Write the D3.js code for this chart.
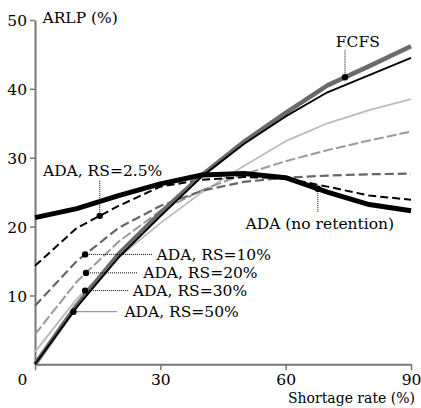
<!DOCTYPE html>
<html>
<head>
<meta charset="utf-8">
<script src="https://cdn.jsdelivr.net/npm/d3@7"></script>
<style>
  body { margin: 0; background: #fff; }
</style>
</head>
<body>
<svg id="chart" width="421" height="408"></svg>
<script>
// Data (shortage rate % -> ARLP %)
const shortage = [0, 10, 20, 30, 40, 50, 60, 70, 80, 90];
const fcfs   = [0, 8.6, 16.0, 22.0, 27.5, 32.3, 36.5, 40.5, 43.3, 46.2];
const rs50   = [0, 8.3, 15.5, 21.5, 27.3, 32.0, 36.0, 39.5, 42.0, 44.5];
const rs30   = [1.8, 9.5, 15.5, 20.5, 25.0, 28.8, 32.4, 35.0, 36.9, 38.5];
const rs20   = [4.35, 12.0, 17.8, 22.3, 25.3, 27.6, 29.5, 31.1, 32.5, 33.8];
const rs10   = [8.5, 15.0, 19.8, 23.0, 25.2, 26.5, 27.1, 27.4, 27.6, 27.7];
const rs25   = [14.3, 19.8, 23.0, 25.8, 26.8, 27.2, 27.0, 25.8, 24.5, 23.9];
const noRet  = [21.3, 22.6, 24.5, 26.2, 27.5, 27.7, 27.1, 25.0, 23.2, 22.3];

const xTicks = [0, 30, 60, 90];
const yTicks = [10, 20, 30, 40, 50];

// Drawing order, bottom to top
const series = [
    { key: "rs30",  values: rs30,  color: "#bbbbbb", width: 1.8, dash: null },
    { key: "rs20",  values: rs20,  color: "#999999", width: 2,   dash: "10,3" },
    { key: "rs10",  values: rs10,  color: "#666666", width: 2.2, dash: "9,4" },
    { key: "rs25",  values: rs25,  color: "#000000", width: 2,   dash: "8,4" },
    { key: "fcfs",  values: fcfs,  color: "#6a6a6a", width: 4.5, dash: null },
    { key: "rs50",  values: rs50,  color: "#000000", width: 1.8, dash: null },
    { key: "noRet", values: noRet, color: "#000000", width: 5,   dash: null }
];

// Annotations: dot on a series, dotted leader, label (data units)
const labels = [
    { key: "rs25",  text: "ADA, RS=2.5%",       dotX: 15.5, dir: "v", end: 26.8, tx: 1.9,  ty: 27.3 },
    { key: "fcfs",  text: "FCFS",               dotX: 74.2, dir: "v", end: 45.6, tx: 72.0, ty: 46.1 },
    { key: "noRet", text: "ADA (no retention)", dotX: 67.7, dir: "v", end: 22.0, tx: 50.4, ty: 19.65 },
    { key: "rs10",  text: "ADA, RS=10%",        dotX: 12.0, dir: "h", end: 28.2, tx: 29.1 },
    { key: "rs20",  text: "ADA, RS=20%",        dotX: 12.2, dir: "h", end: 24.6, tx: 25.9 },
    { key: "rs30",  text: "ADA, RS=30%",        dotX: 12.0, dir: "h", end: 22.4, tx: 23.4 },
    { key: "rs50",  text: "ADA, RS=50%",        dotX: 9.2,  dir: "h", end: 19.6, tx: 21.4 }
];

const font = "DejaVu Serif";
const svg = d3.select("#chart")
    .style("font-family", font)
    .style("font-size", "15.5px");
const x = d3.scaleLinear().domain([0, 90]).range([35, 411]);
const y = d3.scaleLinear().domain([0, 50]).range([364.3, 20]);
const axisColor = "#777";

// Axes
const xAxis = svg.append("g")
    .attr("transform", `translate(0,${y(0)})`)
    .call(d3.axisBottom(x).tickValues(xTicks).tickSize(6).tickPadding(4).tickSizeOuter(0));
const yAxis = svg.append("g")
    .attr("transform", `translate(${x(0)},0)`)
    .call(d3.axisLeft(y).tickValues(yTicks).tickSize(5).tickPadding(3).tickSizeOuter(0));
[xAxis, yAxis].forEach(a => {
    a.attr("font-family", null).attr("font-size", null);
    a.select(".domain").attr("stroke", axisColor).attr("stroke-width", 2);
    a.selectAll(".tick line").attr("stroke", axisColor).attr("stroke-width", 1.5);
});
xAxis.selectAll(".tick text").filter(d => d === 0).attr("dx", -13);
yAxis.selectAll(".tick text").attr("dy", "0.38em");

svg.append("text").attr("x", 42.5).attr("y", 23.3).text("ARLP (%)");
svg.append("text").attr("x", 415).attr("y", 403)
    .attr("text-anchor", "end")
    .style("font-size", "14px")
    .text("Shortage rate (%)");

// Lines
const line = d3.line().x((d, i) => x(shortage[i])).y(d => y(d));
svg.append("g").selectAll("path")
    .data(series)
    .enter()
    .append("path")
    .attr("d", d => line(d.values))
    .attr("fill", "none")
    .attr("stroke", d => d.color)
    .attr("stroke-width", d => d.width)
    .attr("stroke-dasharray", d => d.dash)
    .attr("stroke-linejoin", "round");

// Value of a series at any shortage rate
function valueAt(values, sx) {
    return d3.scaleLinear().domain(shortage).range(values)(sx);
}
const byKey = {};
series.forEach(s => { byKey[s.key] = s.values; });

const ann = svg.append("g");
labels.forEach(l => {
    const vy = valueAt(byKey[l.key], l.dotX);
    const px = x(l.dotX), py = y(vy);
    if (l.dir === "v") {
        ann.append("line").attr("x1", px).attr("y1", py).attr("x2", px).attr("y2", y(l.end));
        ann.append("text").attr("x", x(l.tx)).attr("y", y(l.ty)).text(l.text);
    } else {
        ann.append("line").attr("x1", px).attr("y1", py).attr("x2", x(l.end)).attr("y2", py);
        ann.append("text").attr("x", x(l.tx)).attr("y", py + 5.5).text(l.text);
    }
    ann.append("circle").attr("cx", px).attr("cy", py).attr("r", 3.2).attr("fill", "black");
});
ann.selectAll("line")
    .attr("stroke", "black")
    .attr("stroke-width", 1)
    .attr("stroke-dasharray", "1,1");
</script>
</body>
</html>
